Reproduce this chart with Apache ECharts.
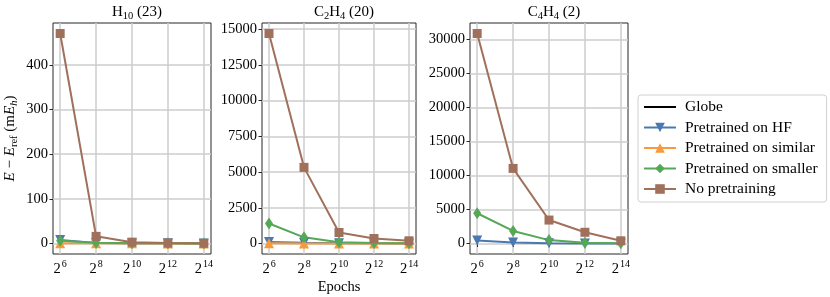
<!DOCTYPE html>
<html><head><meta charset="utf-8">
<script src="https://cdn.jsdelivr.net/npm/echarts@6/dist/echarts.min.js"></script>
<style>html,body{margin:0;padding:0;background:#fff}#c{width:830px;height:297px}</style>
</head><body><div id="c"></div>
<script>
// ---- data ----
const xExponents = [6, 8, 10, 12, 14];           // epochs = 2^x
const seriesNames = ['Globe', 'Pretrained on HF', 'Pretrained on similar', 'Pretrained on smaller', 'No pretraining'];

const h10_hf      = [8, 1, 0.5, 0.3, 0.2];
const h10_similar = [0.5, 0.4, 0.3, 0.2, 0.1];
const h10_smaller = [6, 1.5, 0.8, 0.4, 0.2];
const h10_nopre   = [470, 16, 3, 1, 0.5];

const c2h4_hf      = [110, 50, 20, 10, 5];
const c2h4_similar = [10, 5, 3, 2, 1];
const c2h4_smaller = [1400, 430, 80, 30, 15];
const c2h4_nopre   = [14700, 5330, 770, 350, 190];

const c4h4_hf      = [450, 150, 30, 15, 8];
const c4h4_smaller = [4450, 1850, 500, 120, 50];
const c4h4_nopre   = [30900, 11050, 3450, 1650, 400];

const yTicksH10  = [0, 100, 200, 300, 400];
const yTicksC2H4 = [0, 2500, 5000, 7500, 10000, 12500, 15000];
const yTicksC4H4 = [0, 5000, 10000, 15000, 20000, 25000, 30000];

const panelTitles = ['{n|H}{sub|10}{n| (23)}', '{n|C}{sub|2}{n|H}{sub|4}{n| (20)}', '{n|C}{sub|4}{n|H}{sub|4}{n| (2)}'];

// ---- styling ----
const FONT = 'Liberation Serif';
const FS = 14.5;
const colors = {
  'Globe': '#000000',
  'Pretrained on HF': '#4a78b0',
  'Pretrained on similar': '#f79a3a',
  'Pretrained on smaller': '#55a855',
  'No pretraining': '#a0705a'
};
const symbols = {
  'Pretrained on HF': {symbol: 'triangle', symbolRotate: 180, symbolSize: 10},
  'Pretrained on similar': {symbol: 'triangle', symbolRotate: 0, symbolSize: 10},
  'Pretrained on smaller': {symbol: 'diamond', symbolRotate: 0, symbolSize: [8, 12]},
  'No pretraining': {symbol: 'rect', symbolRotate: 0, symbolSize: 9}
};

const grids = [
  {left: 53, top: 23, width: 158, height: 231},
  {left: 262, top: 23, width: 154, height: 231},
  {left: 470, top: 23, width: 158, height: 231}
];
const yRanges = [[-23.5, 493.5], [-735, 15435], [-1545, 32445]];
const yTicks = [yTicksH10, yTicksC2H4, yTicksC4H4];

const base = {fontFamily: FONT, color: '#000', fontWeight: 'normal'};
const subRich = {
  n: Object.assign({fontSize: 15, lineHeight: 20}, base),
  i: Object.assign({fontSize: 15, fontStyle: 'italic', lineHeight: 20}, base),
  sub: Object.assign({fontSize: 10.5, lineHeight: 14, verticalAlign: 'bottom'}, base),
  subi: Object.assign({fontSize: 10.5, fontStyle: 'italic', lineHeight: 14, verticalAlign: 'bottom'}, base)
};

const xAxes = grids.map((g, i) => ({
  type: 'value', gridIndex: i, min: 5.6, max: 14.4,
  axisLine: {show: false},
  axisTick: {show: true, inside: false, length: 3.5, lineStyle: {color: '#262626', width: 1}, customValues: xExponents},
  axisLabel: {
    customValues: xExponents, margin: 5,
    formatter: v => '{b|2}{s|' + v + '}',
    rich: {
      b: Object.assign({fontSize: FS, lineHeight: 18, verticalAlign: 'bottom'}, base),
      s: Object.assign({fontSize: 10, lineHeight: 18, verticalAlign: 'top', padding: [0, 0, 0, 1]}, base)
    }
  },
  splitLine: {show: true, lineStyle: {color: '#cccccc', width: 1.5}},
  name: i === 1 ? 'Epochs' : '', nameLocation: 'middle', nameGap: 26, nameMoveOverlap: false,
  nameTextStyle: Object.assign({fontSize: FS}, base)
}));

const yAxes = grids.map((g, i) => ({
  type: 'value', gridIndex: i, min: yRanges[i][0], max: yRanges[i][1],
  axisLine: {show: false},
  axisTick: {show: true, inside: false, length: 3.5, lineStyle: {color: '#262626', width: 1}, customValues: yTicks[i]},
  axisLabel: Object.assign({customValues: yTicks[i], margin: 5, fontSize: FS, formatter: v => String(v)}, base),
  splitLine: {show: true, lineStyle: {color: '#cccccc', width: 1.5}},
  name: i === 0 ? '{i|E}{n| − }{i|E}{sub|ref}{n| (m}{i|E}{subi|h}{n|)}' : '',
  nameLocation: 'middle', nameRotate: 90, nameGap: 33, nameMoveOverlap: false,
  nameTextStyle: {rich: subRich}
}));

function mk(name, vals, idx) {
  const s = symbols[name];
  return {
    type: 'line', name: name, xAxisIndex: idx, yAxisIndex: idx,
    data: xExponents.map((e, k) => [e, vals[k]]),
    symbol: s.symbol, symbolRotate: s.symbolRotate, symbolSize: s.symbolSize,
    showSymbol: true, showAllSymbol: true,
    lineStyle: {width: 2, color: colors[name]},
    itemStyle: {color: colors[name]},
    emphasis: {disabled: true}, animation: false
  };
}

const series = [
  {type: 'line', name: 'Globe', xAxisIndex: 0, yAxisIndex: 0, data: [], symbol: 'none',
   lineStyle: {width: 2, color: '#000'}, itemStyle: {color: '#000', opacity: 0}},
  mk('Pretrained on HF', h10_hf, 0),
  mk('Pretrained on similar', h10_similar, 0),
  mk('Pretrained on smaller', h10_smaller, 0),
  mk('No pretraining', h10_nopre, 0),
  mk('Pretrained on HF', c2h4_hf, 1),
  mk('Pretrained on similar', c2h4_similar, 1),
  mk('Pretrained on smaller', c2h4_smaller, 1),
  mk('No pretraining', c2h4_nopre, 1),
  mk('Pretrained on HF', c4h4_hf, 2),
  mk('Pretrained on smaller', c4h4_smaller, 2),
  mk('No pretraining', c4h4_nopre, 2)
];

const chart = echarts.init(document.getElementById('c'), null, {renderer: 'canvas'});
chart.setOption({
  animation: false,
  backgroundColor: '#fff',
  title: grids.map((g, i) => ({
    text: panelTitles[i], left: g.left + g.width / 2, top: -3, textAlign: 'center',
    textStyle: {rich: subRich}
  })),
  grid: grids.map(g => Object.assign({show: true, borderColor: '#262626', borderWidth: 1, backgroundColor: 'transparent', outerBoundsMode: 'none', containLabel: false}, g)),
  xAxis: xAxes,
  yAxis: yAxes,
  legend: {
    data: seriesNames, orient: 'vertical', left: 638, top: 95,
    itemWidth: 32, itemHeight: 12, itemGap: 4.5,
    padding: [4, 9, 5, 5],
    borderColor: '#d0d0d0', borderWidth: 1, borderRadius: 3,
    textStyle: Object.assign({fontSize: 15.5, padding: [0, 0, 0, 4]}, base),
    selectedMode: false
  },
  series: series
});
</script>
</body></html>
